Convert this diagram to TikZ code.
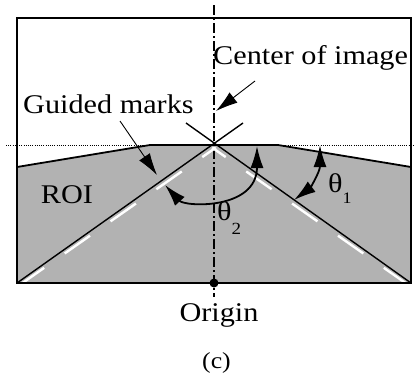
\documentclass[tikz,border=0pt]{standalone}
\usepackage{fontspec}
\setmainfont{Liberation Serif}[FakeStretch=1.12]
\usetikzlibrary{arrows.meta}

\begin{document}
\begin{tikzpicture}[x=1pt, y=-1pt, >={Latex[length=22pt,width=13pt]},
  lbl/.style={font=\fontsize{27}{27}\selectfont, inner sep=0pt},
  guideline/.style={line width=1.4pt},
  whitemark/.style={white, line width=2.4pt, dash pattern=on 31pt off 25pt},
  anglearrow/.style={<->, line width=1.8pt},
  callout/.style={->, line width=0.9pt}]
  \useasboundingbox (0,0) rectangle (414,378);

  % Region of interest
  \fill[black!30] (17,167) -- (150,145) -- (278,145) -- (411,167) -- (411,283) -- (17,283) -- cycle;
  \draw[line width=1.8pt] (17,167) -- (150,145) -- (278,145) -- (411,167);

  % Horizon and vertical axis
  \draw[dash pattern=on 1pt off 1.2pt, line width=0.9pt] (6,145) -- (414,145);
  \draw[dash pattern=on 10pt off 3pt on 2pt off 3pt, line width=1.4pt] (214,5) -- (214,297);

  % Guided marks
  \coordinate (bl) at (17,283);
  \coordinate (br) at (411,283);
  \coordinate (apex) at (214,145);
  \draw[whitemark] (18.8,285.6) -- (215.8,147.6);
  \draw[whitemark] (409.2,285.6) -- (212.2,147.6);
  \draw[guideline] (bl) -- (243,123);
  \draw[guideline] (br) -- (186,123);

  % Frame
  \draw[line width=1.6pt] (17,18) rectangle (411,283);
  \node[circle, fill, inner sep=0pt, minimum size=9pt] (origin) at (214,283) {};

  % Labels
  \node[lbl, anchor=base west] (center) at (213,64) {Center of image};
  \node[lbl, anchor=base west] (guided) at (23,113) {Guided marks};
  \node[lbl, anchor=base] (roi) at (67,203) {ROI};
  \node[lbl, anchor=base] (origintext) at (219,321) {Origin};
  \node[lbl, anchor=base west] (theta1) at (328,192) {θ\raisebox{-11pt}{\fontsize{16}{16}\selectfont 1}};
  \node[lbl, anchor=base west] (theta2) at (217,220) {θ\raisebox{-14pt}{\fontsize{17}{17}\selectfont 2}};
  \node[font=\fontsize{23}{23}\selectfont, inner sep=0pt] (caption) at (216.5,363) {(c)};

  % Callout arrows
  \coordinate (ctail) at (255,81);
  \coordinate (ctip) at (216,111);
  \draw[callout] (ctail) -- (ctip);
  \coordinate (gtail) at (120,121);
  \coordinate (gtip) at (157,175);
  \draw[callout] (gtail) -- (gtip);

  % Angles
  \coordinate (a2l) at (165,185);
  \coordinate (a2r) at (257,146);
  \draw[anglearrow] (a2l) .. controls (185,207) and (257,210) .. (a2r);
  \coordinate (a1t) at (320,145);
  \coordinate (a1b) at (294,200);
  \draw[anglearrow] (a1t) .. controls (320,172) and (310,188) .. (a1b);
\end{tikzpicture}
\end{document}
